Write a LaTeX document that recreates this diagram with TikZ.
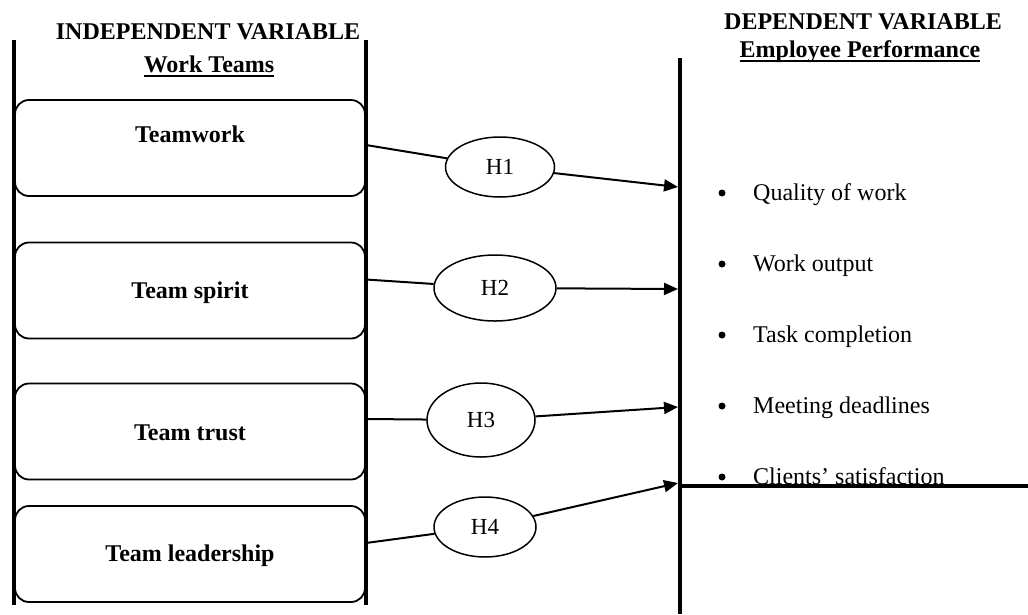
\documentclass[tikz,border=0pt]{standalone}
\usepackage{fontspec}
\setmainfont{Liberation Serif}
\usetikzlibrary{shapes.geometric,arrows.meta}
\newcommand\myul[1]{\setbox0\hbox{#1}\rlap{\rule[-5pt]{\wd0}{1.8pt}}\box0}
\begin{document}
\begin{tikzpicture}[x=1pt,y=-1pt,
  thickline/.style={line width=4pt},
  box/.style={draw,line width=1.8pt,rounded corners=14pt,minimum width=350pt,minimum height=96pt,inner sep=0pt},
  btext/.style={font=\fontsize{24}{28}\selectfont\bfseries,anchor=base,inner sep=0pt},
  hyp/.style={draw,ellipse,line width=1.5pt,inner sep=0pt,font=\fontsize{23}{27}\selectfont},
  conn/.style={line width=2pt},
  arr/.style={line width=2pt,-{Triangle[length=14pt,width=12pt]}},
  item/.style={font=\fontsize{24}{28}\selectfont,anchor=base west,inner sep=0pt},
  bul/.style={circle,fill,inner sep=0pt,minimum size=7pt},
  title/.style={font=\fontsize{24}{28}\selectfont\bfseries,anchor=base,inner sep=0pt}]

\useasboundingbox (0,0) rectangle (1028,614);

% titles
\node[title] (indep) at (208,39.5) {INDEPENDENT VARIABLE};
\node[title] (wt) at (209,72) {\myul{Work Teams}};
\node[title] (dep) at (863,29) {DEPENDENT VARIABLE};
\node[title] (ep) at (860,57) {\myul{Employee Performance}};

% boxes
\node[box] (b1) at (190,148) {};
\node[box] (b2) at (190,290.5) {};
\node[box] (b3) at (190,431.5) {};
\node[box] (b4) at (190,554) {};
\node[btext] (b1t) at (190,142) {Teamwork};
\node[btext] (b2t) at (190,298) {Team spirit};
\node[btext] (b3t) at (190,440) {Team trust};
\node[btext] (b4t) at (190,561) {Team leadership};

% left frame lines
\draw[thickline] (14,40) -- (14,605);
\draw[thickline] (366,40) -- (366,605);

% right frame
\draw[thickline] (680,58) -- (680,614);

% hypotheses
\node[hyp,minimum width=109pt,minimum height=60pt] (h1) at (500,167) {H1};
\node[hyp,minimum width=122pt,minimum height=66pt] (h2) at (495,288) {H2};
\node[hyp,minimum width=108pt,minimum height=74pt] (h3) at (481,420) {H3};
\node[hyp,minimum width=102pt,minimum height=60pt] (h4) at (485,527) {H4};

\coordinate (p1) at (678,187);
\coordinate (p2) at (678,289);
\coordinate (p3) at (678,407);
\coordinate (p4) at (678,483);

\draw[conn] ([yshift=3pt]b1.east) -- (h1);
\draw[conn] ([yshift=11pt]b2.east) -- (h2);
\draw[conn] ([yshift=12.5pt]b3.east) -- (h3);
\draw[conn] ([yshift=11pt]b4.east) -- (h4);

\draw[arr] (h1) -- (p1);
\draw[arr] (h2) -- (p2);
\draw[arr] (h3) -- (p3);
\draw[arr] (h4) -- (p4);

% items
\node[bul] (d1) at (722,193) {};
\node[bul] (d2) at (722,264) {};
\node[bul] (d3) at (722,335) {};
\node[bul] (d4) at (722,406) {};
\node[bul] (d5) at (722,477) {};
\node[item] (i1) at (753,200) {Quality of work};
\node[item] (i2) at (753,271) {Work output};
\node[item] (i3) at (753,342) {Task completion};
\node[item] (i4) at (753,413) {Meeting deadlines};
\node[item] (i5) at (753,484) {Clients’ satisfaction};

\draw[thickline] (680,486) -- (1028,486);
\end{tikzpicture}
\end{document}
